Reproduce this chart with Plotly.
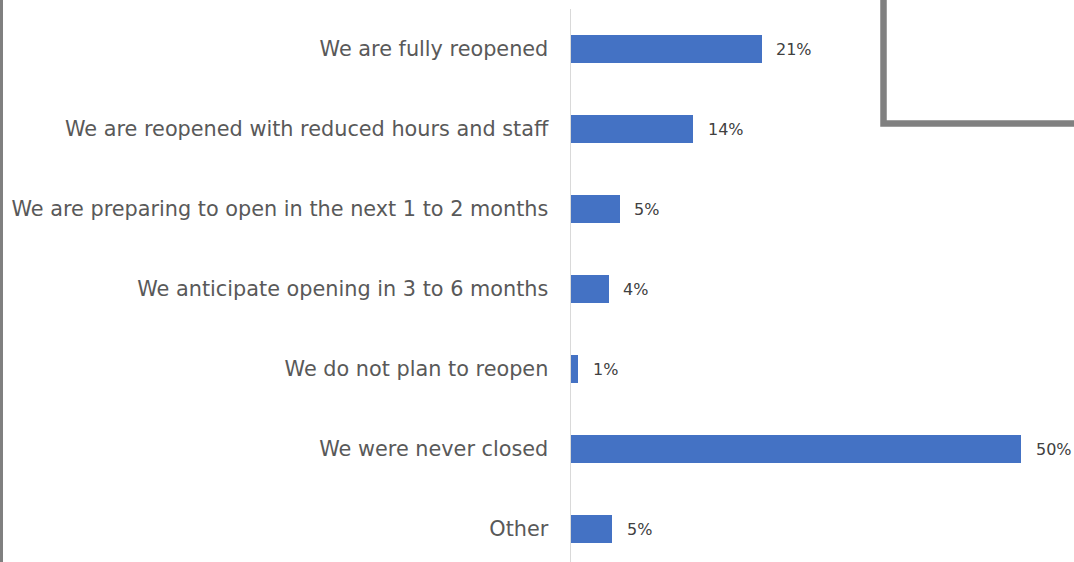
import plotly.graph_objects as go

categories = [
    "We are fully reopened",
    "We are reopened with reduced hours and staff",
    "We are preparing to open in the next 1 to 2 months",
    "We anticipate opening in 3 to 6 months",
    "We do not plan to reopen",
    "We were never closed",
    "Other",
]
values = [21.2, 13.6, 5.4, 4.2, 0.8, 50.0, 4.6]
value_labels = ["21%", "14%", "5%", "4%", "1%", "50%", "5%"]

W, H = 1074, 562
ax_left = 571
top_gap = 9

fig = go.Figure()
fig.add_trace(go.Bar(
    y=list(range(len(categories))),
    x=values,
    orientation="h",
    width=0.35,
    marker=dict(color="#4472C4", line=dict(width=0)),
    hoverinfo="skip",
))

annotations = []
for i, (v, lab) in enumerate(zip(values, value_labels)):
    annotations.append(dict(
        x=v, y=i, xref="x", yref="y", text=lab, showarrow=False,
        xanchor="left", yanchor="middle", xshift=12.5,
        font=dict(family="DejaVu Sans", size=16, color="#404040"),
    ))

x_max = 50 * (W - ax_left) / (1021 - ax_left)

fig.update_layout(
    width=W, height=H,
    margin=dict(l=0, r=0, t=0, b=0),
    paper_bgcolor="white", plot_bgcolor="white",
    showlegend=False,
    bargap=0,
    xaxis=dict(
        domain=[ax_left / W, 1], range=[0, x_max],
        showgrid=False, zeroline=False, showticklabels=False, showline=False,
        fixedrange=True,
    ),
    yaxis=dict(
        domain=[0, (H - top_gap) / H],
        range=[6.4125, -0.5],
        tickmode="array", tickvals=list(range(len(categories))), ticktext=categories,
        tickfont=dict(family="DejaVu Sans", size=20.8, color="#595959"),
        showgrid=False, zeroline=False,
        showline=True, linecolor="#d9d9d9", linewidth=1.5,
        ticks="", ticklabelstandoff=17,
        fixedrange=True,
    ),
    annotations=annotations,
    shapes=[
        dict(type="line", xref="paper", yref="paper",
             x0=1.5 / W, x1=1.5 / W, y0=0, y1=1,
             line=dict(color="#808080", width=3)),
        dict(type="rect", xref="paper", yref="paper",
             x0=883.5 / W, x1=1.05, y0=1 - 123.5 / H, y1=1.05,
             line=dict(color="#808080", width=6.5), fillcolor="rgba(0,0,0,0)"),
    ],
)

fig.write_html(
    "out.html",
    config={"displayModeBar": False, "staticPlot": True},
    post_script="document.body.style.margin='0';document.body.style.overflow='hidden';",
)
